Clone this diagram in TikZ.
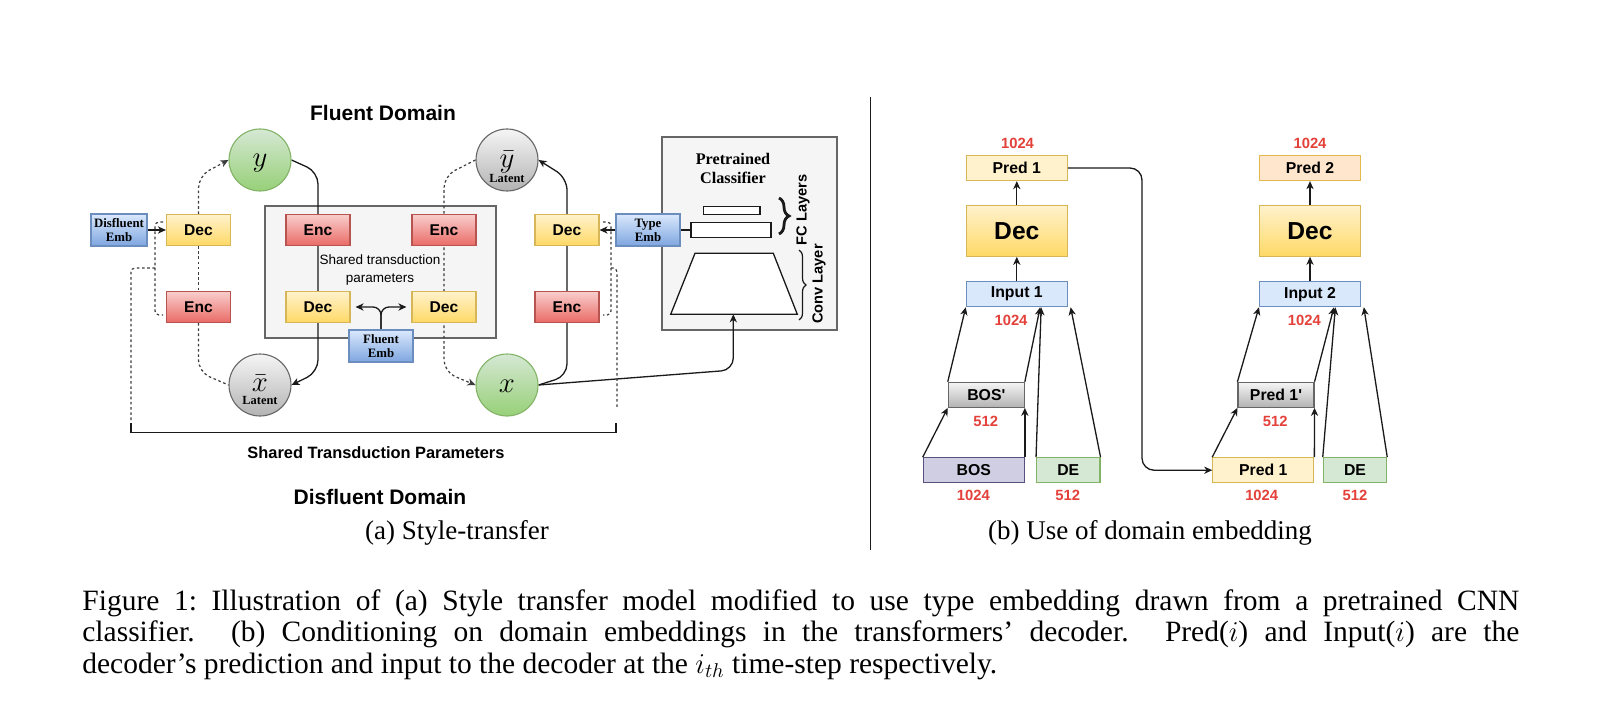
\documentclass[tikz,border=0pt]{standalone}
\usepackage{fontspec}
\setmainfont{Liberation Serif}
\setsansfont{Liberation Sans}
\newfontfamily\rawsans{Liberation Sans}[Ligatures=TeXOff]
\usetikzlibrary{arrows.meta,decorations.pathreplacing}
\definecolor{encT}{HTML}{F8CECC}
\definecolor{encB}{HTML}{EA6B66}
\definecolor{encD}{HTML}{B85450}
\definecolor{decT}{HTML}{FFF2CC}
\definecolor{decB}{HTML}{FFD966}
\definecolor{decD}{HTML}{D6B656}
\definecolor{embT}{HTML}{DAE8FC}
\definecolor{embB}{HTML}{7EA6E0}
\definecolor{embD}{HTML}{6C8EBF}
\definecolor{grnT}{HTML}{D5E8D4}
\definecolor{grnB}{HTML}{97D077}
\definecolor{grnD}{HTML}{82B366}
\definecolor{gryT}{HTML}{F5F5F5}
\definecolor{gryB}{HTML}{B3B3B3}
\definecolor{gryD}{HTML}{666666}
\definecolor{panelF}{HTML}{F5F5F5}
\definecolor{predF}{HTML}{FFF2CC}
\definecolor{predD}{HTML}{D6B656}
\definecolor{peachF}{HTML}{FFE6CC}
\definecolor{peachD}{HTML}{D79B00}
\definecolor{bosF}{HTML}{D0CEE2}
\definecolor{bosD}{HTML}{56517E}
\definecolor{deF}{HTML}{D5E8D4}
\definecolor{deD}{HTML}{82B366}
\definecolor{inF}{HTML}{DAE8FC}
\definecolor{inD}{HTML}{6C8EBF}
\definecolor{numred}{HTML}{E3413A}
\definecolor{lineC}{HTML}{1A1A1A}
\newcommand{\myfED}{\sffamily\bfseries\fontsize{7.8}{9}\selectfont}
\newcommand{\myfEmb}{\rmfamily\bfseries\fontsize{6.4}{7}\selectfont}
\newcommand{\myfTitle}{\sffamily\bfseries\fontsize{10.5}{12}\selectfont}
\newcommand{\myfBrk}{\sffamily\bfseries\fontsize{8.2}{10}\selectfont}
\newcommand{\myfShared}{\sffamily\fontsize{6.75}{9}\selectfont}
\newcommand{\myfPre}{\rmfamily\bfseries\fontsize{8.1}{9.5}\selectfont}
\newcommand{\myfLayer}{\sffamily\bfseries\fontsize{7.3}{9}\selectfont}
\newcommand{\myfBox}{\sffamily\bfseries\fontsize{7.9}{9}\selectfont}
\newcommand{\myfRawBox}{\rawsans\bfseries\fontsize{7.9}{9}\selectfont}
\newcommand{\myfBig}{\sffamily\bfseries\fontsize{12.3}{14}\selectfont}
\newcommand{\myfNum}{\sffamily\bfseries\fontsize{7.4}{9}\selectfont}
\newcommand{\myfLat}{\rmfamily\bfseries\fontsize{6.2}{7}\selectfont}
\newcommand{\myfMathL}{\fontsize{15.5}{17}\selectfont}
\newcommand{\myfMathS}{\fontsize{13.5}{14}\selectfont}
\newcommand{\myfSub}{\rmfamily\fontsize{13.5}{16}\selectfont}
\newcommand{\myfCap}{\rmfamily\fontsize{14.75}{16}\selectfont}
\pgfdeclarelayer{back}
\pgfdeclarelayer{mid}
\pgfsetlayers{back,mid,main}
\begin{document}
\begin{tikzpicture}[x=0.5pt,y=-0.5pt,
  conn/.style={line width=0.65pt, draw=lineC},
  dotc/.style={line width=0.6pt, draw=lineC!85, dash pattern=on 1.3pt off 1.3pt},
  arr/.style={-{Stealth[length=4pt,width=3.6pt,inset=1.2pt]}},
  bx/.style={draw, inner sep=0pt, line width=0.55pt},
  encbox/.style={bx, draw=encD, top color=encT, bottom color=encB, minimum width=32pt, minimum height=15.5pt, font=\myfED},
  decbox/.style={bx, draw=decD, top color=decT, bottom color=decB, minimum width=32pt, minimum height=15.5pt, font=\myfED},
  embbox/.style={bx, draw=embD, top color=embT, bottom color=embB, minimum width=32pt, minimum height=16pt, font=\myfEmb, align=center},
  grn/.style={circle, draw=grnD, line width=0.55pt, top color=grnT, bottom color=grnB, minimum size=31pt, inner sep=0pt},
  gry/.style={circle, draw=gryD, line width=0.55pt, top color=gryT, bottom color=gryB, minimum size=31pt, inner sep=0pt},
  panel/.style={draw=gryD, fill=panelF, line width=0.6pt, inner sep=0pt},
  bbox/.style={bx, minimum width=50.5pt, minimum height=12.6pt, font=\myfBox},
  num/.style={font=\myfNum, text=numred, inner sep=0pt},
  bconn/.style={line width=0.65pt, draw=lineC},
  txt/.style={inner sep=0pt},
]
\useasboundingbox (0,0) rectangle (1602,722);

% ---------------- (a) ----------------
\begin{pgfonlayer}{back}
\fill[white] (0,0) rectangle (1602,722);
\node[panel, minimum width=115.5pt, minimum height=66pt] (shared) at (380.5,272) {};
\node[panel, minimum width=87.5pt, minimum height=96.5pt] (clsbox) at (749.5,233.5) {};
\end{pgfonlayer}

\node[txt, font=\myfTitle] (fluentd) at (383,113) {Fluent Domain};

\node[grn] (ycirc) at (260,160) {};
\node[txt, font=\myfMathL] (ytxt) at (260,163.3) {$y$};
\node[gry] (ybar) at (507,160) {};
\node[txt, font=\myfMathS] (ybartxt) at (507,162) {$\bar{y}$};
\node[txt, font=\myfLat] (ybarlat) at (507,178.5) {Latent};
\node[gry] (xbar) at (260,385) {};
\node[txt, font=\myfMathS] (xbartxt) at (260,383.5) {$\bar{x}$};
\node[txt, font=\myfLat] (xbarlat) at (260,400) {Latent};
\node[grn] (xcirc) at (507,385) {};
\node[txt, font=\myfMathL] (xtxt) at (507,386.5) {$x$};

\node[embbox, minimum width=28pt] (demb) at (119,230) {Disfluent\\Emb};
\node[decbox] (decL) at (198.5,230) {Dec};
\node[encbox] (encL) at (198.5,307) {Enc};

\node[encbox] (encA) at (318,230) {Enc};
\node[encbox] (encB) at (444,230) {Enc};
\node[decbox] (decA) at (318,307) {Dec};
\node[decbox] (decB) at (444,307) {Dec};
\node[txt, font=\myfShared, align=center] (sharedtxt) at (380,270) {Shared transduction\\parameters};
\node[embbox] (femb) at (381,346) {Fluent\\Emb};

\node[decbox] (decR) at (567,230) {Dec};
\node[encbox] (encR) at (567,307) {Enc};
\node[embbox] (temb) at (648,230) {Type\\Emb};

\node[txt, font=\myfPre, align=center] (pretxt) at (733,168.3) {Pretrained\\Classifier};
\node[draw=lineC, fill=white, line width=0.6pt, inner sep=0pt, minimum width=28.3pt, minimum height=3.8pt] (fc1) at (731.7,210.5) {};
\node[draw=lineC, fill=white, line width=0.6pt, inner sep=0pt, minimum width=40pt, minimum height=7.7pt] (fc2) at (731,230) {};
\draw[line width=0.65pt, draw=lineC, fill=white] (695,253.3) -- (773.3,253.3) -- (797.3,314.3) -- (670.7,314.3) -- cycle;
\coordinate (trapb) at (733.3,314.3);
\draw[line width=1.4pt, draw=lineC, decorate, decoration={brace, amplitude=5pt}] (779,198) -- (779,234);
\draw[line width=0.6pt, draw=lineC, decorate, decoration={brace, amplitude=3.5pt}] (799,250) -- (799,320);
\node[txt, font=\myfLayer, rotate=90] (fclab) at (803,210) {FC Layers};
\node[txt, font=\myfLayer, rotate=90] (convlab) at (819,284) {Conv Layer};

\coordinate (lbA) at (163,222);
\coordinate (lbB) at (163,315);
\coordinate (lbM) at (155,268);
\coordinate (lbD) at (131,420);
\coordinate (rbA) at (603,222);
\coordinate (rbB) at (603,315);
\coordinate (rbM) at (611,268);
\coordinate (rbD) at (617,408);
\coordinate (brL) at (131,423);
\coordinate (brR) at (616,423);

\node[txt, font=\myfBrk] (brktxt) at (376,453) {Shared Transduction Parameters};
\node[txt, font=\myfTitle] (disfd) at (380,497) {Disfluent Domain};
\node[txt, font=\myfSub, anchor=base] (capa) at (457,539.5) {(a) Style-transfer};

\begin{pgfonlayer}{mid}
% dotted paths
\draw[dotc, arr, rounded corners=6pt] (decL.north) -- (198.5,176) -- (ycirc.west);
\draw[dotc] (decL.south) -- (encL.north);
\draw[dotc, rounded corners=6pt] (encL.south) -- (198.5,372) -- (xbar.west);
\draw[dotc, arr, rounded corners=6pt] (ybar.west) -- (444,176) -- (444,372) -- (xcirc.west);
% solid paths
\draw[conn, arr, rounded corners=6pt] (ycirc.east) -- (318,172) -- (318,372) -- (xbar.east);
\draw[conn, arr, rounded corners=6pt] (xcirc.east) -- (567,376) -- (567,178) -- (ybar.east);
\draw[conn, arr, rounded corners=6pt] (xcirc.east) -- (733.3,370) -- (trapb);
\draw[conn, arr] (demb.east) -- (decL.west);
\draw[conn, arr] (temb.west) -- (decR.east);
\draw[conn] (temb.east) -- (fc2.west);
\draw[conn, arr, rounded corners=4pt, shorten >=2.5pt] (femb.north) |- (decA.east);
\draw[conn, arr, rounded corners=4pt, shorten >=2.5pt] (femb.north) |- (decB.west);
% dotted brackets
\draw[dotc, rounded corners=2pt] (lbA) -| (lbM) |- (lbB);
\draw[dotc, rounded corners=2pt] (lbM) -| (lbD);
\draw[dotc, rounded corners=2pt] (rbA) -| (rbM) |- (rbB);
\draw[dotc, rounded corners=2pt] (rbM) -| (rbD);
% bracket
\draw[line width=0.7pt, draw=lineC] (brL) -- (131,432.3) -- (616,432.3) -- (brR);
\end{pgfonlayer}

% separator
\draw[line width=0.6pt, draw=lineC] (870.5,97) -- (870.5,550);

% ---------------- (b) ----------------
\node[num] (n1a) at (1017.5,143.3) {1024};
\node[bbox, draw=predD, fill=predF] (pred1) at (1016.8,168) {Pred 1};
\node[bbox, draw=decD, top color=decT, bottom color=decB, minimum height=25.3pt, font=\myfBig] (dec1) at (1016.8,231) {Dec};
\node[bbox, draw=inD, fill=inF, minimum height=12.5pt] (in1) at (1016.8,294.2) {Input 1};
\node[num] (n1b) at (1011,320) {1024};
\node[bbox, draw=gryD, top color=gryT, bottom color=gryB, minimum width=38pt, minimum height=12.5pt, font=\myfRawBox] (bosp) at (986.3,394.8) {BOS'};
\node[num] (n1c) at (985.7,421) {512};
\node[bbox, draw=bosD, fill=bosF, minimum height=12.5pt] (bos) at (973.8,470.2) {BOS};
\node[num] (n1d) at (973.3,495) {1024};
\node[bbox, draw=deD, fill=deF, minimum width=31.7pt, minimum height=12.5pt] (de1) at (1068.3,470.2) {DE};
\node[num] (n1e) at (1067.7,495) {512};

\node[num] (n2a) at (1310,143.3) {1024};
\node[bbox, draw=peachD!70!white, fill=peachF] (pred2) at (1310,168) {Pred 2};
\node[bbox, draw=decD, top color=decT, bottom color=decB, minimum height=25.3pt, font=\myfBig] (dec2) at (1310,231) {Dec};
\node[bbox, draw=inD, fill=inF, minimum height=12.5pt] (in2) at (1310,294.2) {Input 2};
\node[num] (n2b) at (1304.3,320) {1024};
\node[bbox, draw=gryD, top color=gryT, bottom color=gryB, minimum width=38pt, minimum height=12.5pt, font=\myfRawBox] (predp) at (1276,394.8) {Pred 1'};
\node[num] (n2c) at (1275.3,421) {512};
\node[bbox, draw=predD, fill=predF, minimum height=12.5pt] (pred1b) at (1263.3,470.2) {Pred 1};
\node[num] (n2d) at (1261.7,495) {1024};
\node[bbox, draw=deD, fill=deF, minimum width=31.7pt, minimum height=12.5pt] (de2) at (1355,470.2) {DE};
\node[num] (n2e) at (1355,495) {512};

\draw[bconn, arr] (dec1.north) -- (pred1.south);
\draw[bconn, arr] (in1.north) -- (dec1.south);
\draw[bconn, arr] (bos.north west) -- (bosp.south west);
\draw[bconn, arr] (bos.north east) -- (bosp.south east);
\draw[bconn, arr] (bosp.north west) -- (in1.south west);
\draw[bconn, arr] (bosp.north east) -- ([xshift=37.2pt]in1.south west);
\draw[bconn, arr] (de1.north west) -- ([xshift=37.7pt]in1.south west);
\draw[bconn, arr] (de1.north east) -- ([xshift=1.4pt]in1.south east);

\draw[bconn, arr] (dec2.north) -- (pred2.south);
\draw[bconn, arr] (in2.north) -- (dec2.south);
\draw[bconn, arr] (pred1b.north west) -- (predp.south west);
\draw[bconn, arr] (pred1b.north east) -- (predp.south east);
\draw[bconn, arr] (predp.north west) -- (in2.south west);
\draw[bconn, arr] (predp.north east) -- ([xshift=37.5pt]in2.south west);
\draw[bconn, arr] (de2.north west) -- ([xshift=38.2pt]in2.south west);
\draw[bconn, arr] (de2.north east) -- ([xshift=1.4pt]in2.south east);

\draw[bconn, arr, rounded corners=6pt] (pred1.east) -- (1142,168) -- (1142,470.2) -- (pred1b.west);

\node[txt, font=\myfSub, anchor=base] (capb) at (1150,539.5) {(b) Use of domain embedding};

% ---------------- caption ----------------
\node[txt, font=\myfCap, anchor=base west] (cap1) at (82,610) {\frenchspacing\makebox[718.5pt][s]{Figure 1: Illustration of (a) Style transfer model modified to use type embedding drawn from a pretrained CNN}};
\node[txt, font=\myfCap, anchor=base west] (cap2) at (82,641.5) {\makebox[718.5pt][s]{classifier. (b) Conditioning on domain embeddings in the transformers’ decoder. Pred($i$) and Input($i$) are the}};
\node[txt, font=\myfCap, anchor=base west] (cap3) at (82,673) {decoder’s prediction and input to the decoder at the $i_{th}$ time-step respectively.};
\end{tikzpicture}
\end{document}
